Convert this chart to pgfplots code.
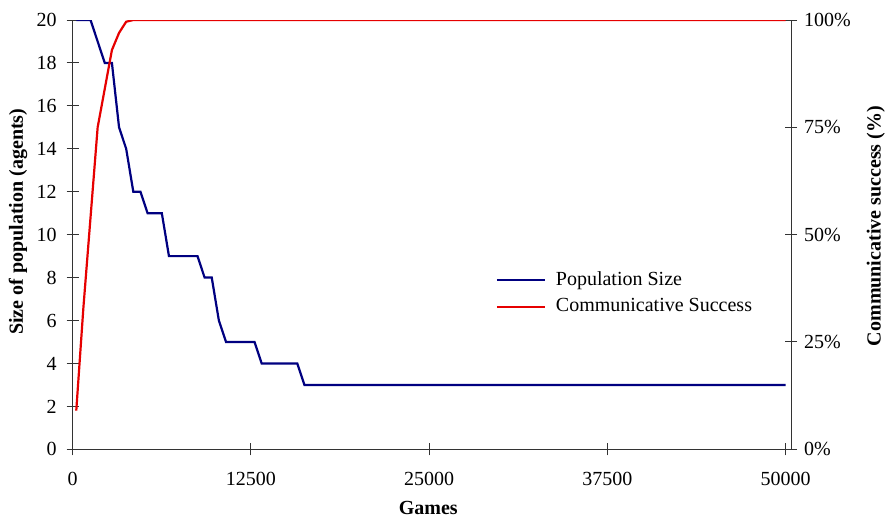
\documentclass[border=0pt]{standalone}
\usepackage{fontspec}
\setmainfont{Liberation Serif}
\usepackage{pgfplots}
\pgfplotsset{compat=1.18}
\definecolor{popblue}{RGB}{0,0,128}
\definecolor{sucred}{RGB}{230,0,0}
\begin{document}
\begin{tikzpicture}
\path[use as bounding box] (-36.35pt,-35.85pt) rectangle (406.65pt,224.65pt);
\pgfplotsset{
  common/.style={
    scale only axis,
    width=359.15pt, height=214.65pt,
    at={(0,0)}, anchor=south west,
    xmin=0, xmax=50370,
    tick align=center,
    major tick length=6pt,
    axis line style={draw=black!80, line width=0.5pt},
    every tick/.style={black!80, line width=0.5pt},
    /pgf/number format/assume math mode=true,
    /pgf/number format/set thousands separator={},
    scaled ticks=false,
    tick label style={font=\normalsize},
  }
}
\begin{axis}[common,
  axis x line*=bottom, axis y line*=left,
  ymin=0, ymax=20, ytick={0,2,...,20},
  xtick={0,12500,25000,37500,50000},
  xticklabel style={yshift=-5pt},
  yticklabel style={xshift=-1.5pt},
  xlabel={\textbf{Games}},
  ylabel={\textbf{Size of population (agents)}},
  xlabel style={at={(axis description cs:0.495,-0.137)}, anchor=center},
  ylabel style={at={(axis description cs:-0.076,0.53)}, anchor=center},
]
\addplot[popblue, line width=1.1pt] coordinates {
(250,20) (1250,20) (1750,19) (2250,18) (2750,18) (3250,15) (3750,14) (4250,12) (4750,12)
(5250,11) (6250,11) (6750,9) (8750,9) (9250,8) (9750,8) (10250,6) (10750,5) (12750,5)
(13250,4) (15750,4) (16250,3) (50000,3)
};
\end{axis}
\begin{axis}[common,
  axis x line=none, axis y line*=right,
  ymin=0, ymax=100, ytick={0,25,50,75,100},
  yticklabel={\pgfmathprintnumber{\tick}\%},
  ylabel={\textbf{Communicative success (\%)}},
  ylabel style={at={(axis description cs:1.118,0.52)}, anchor=center, rotate=0},
  legend style={at={(axis description cs:0.58,0.433)}, anchor=north west, draw=none, fill=none, font=\normalsize, row sep=1pt},
  legend cell align=left,
  legend image code/.code={\draw[#1] (0pt,0pt) -- (24pt,0pt); \path (27pt,0pt);},
]
\addlegendimage{popblue, line width=1.1pt}
\addlegendentry{Population Size}
\addplot[sucred, line width=1.1pt] coordinates {
(250,9) (750,33) (1250,54) (1750,75) (2250,84) (2750,93) (3250,97) (3750,99.6) (4250,100) (50000,100)
};
\addlegendentry{Communicative Success}
\end{axis}
\end{tikzpicture}
\end{document}
